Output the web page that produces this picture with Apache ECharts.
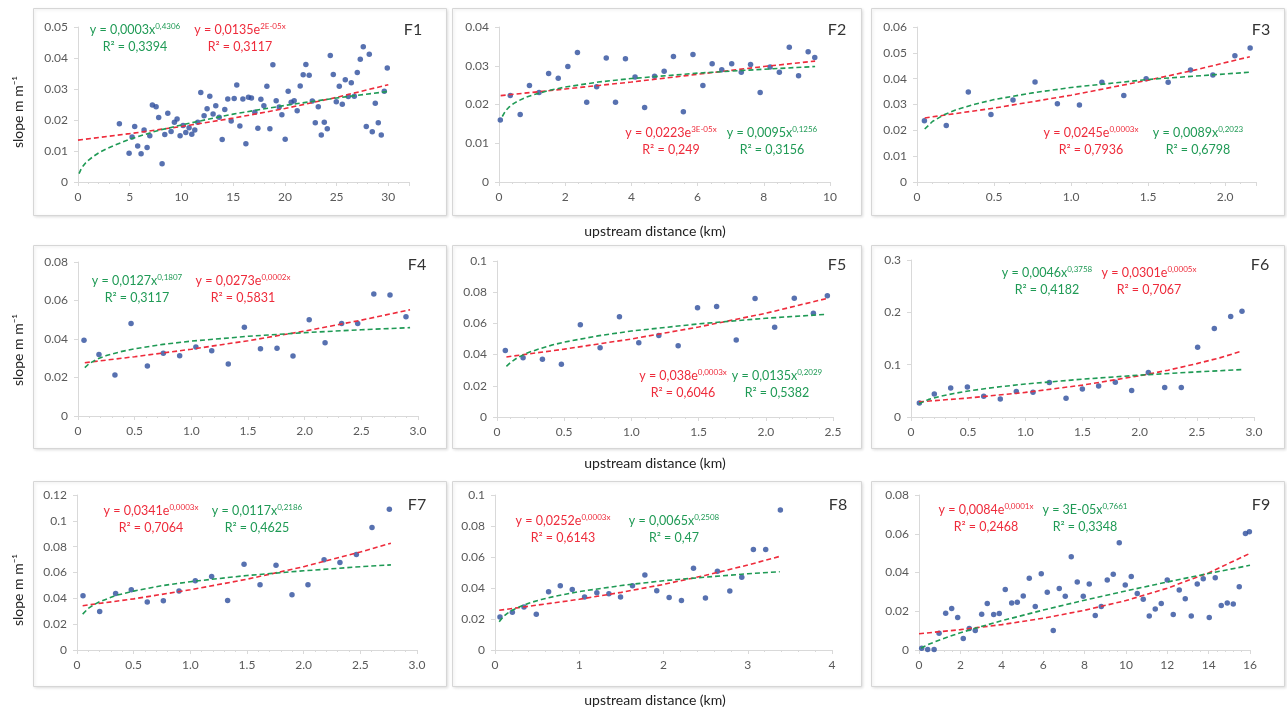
<!DOCTYPE html>
<html>
<head>
<meta charset="utf-8">
<script src="https://cdn.jsdelivr.net/npm/echarts@6/dist/echarts.min.js"></script>
<style>
html,body{margin:0;background:#fff}
#chart{width:1287px;height:711px}
</style>
</head>
<body>
<div id="chart"></div>
<script>
/* ===== 9 panels F1..F9: slope vs upstream distance, with exp (red) + power (green) trendlines ===== */

// ---- data: measured points [km, m/m] ----
const F1_PTS=[[4.0,0.0188],[4.94,0.0093],[5.23,0.0145],[5.48,0.0179],[5.77,0.0116],[6.1,0.0091],[6.39,0.0168],[6.68,0.0111],[6.94,0.0149],[7.19,0.0248],[7.55,0.0243],[7.8,0.0208],[8.13,0.0059],[8.39,0.0153],[8.68,0.0222],[9.0,0.0163],[9.32,0.0193],[9.58,0.0203],[9.87,0.0149],[10.16,0.0182],[10.42,0.016],[10.74,0.0175],[11.0,0.0154],[11.29,0.0168],[11.58,0.0193],[11.87,0.0289],[12.19,0.0214],[12.48,0.0236],[12.74,0.0277],[13.06,0.0219],[13.32,0.0246],[13.65,0.0209],[13.94,0.0137],[14.19,0.0234],[14.48,0.0268],[14.81,0.0197],[15.1,0.0269],[15.35,0.0313],[15.65,0.0181],[15.94,0.0268],[16.23,0.0123],[16.48,0.0273],[16.77,0.0271],[17.1,0.0225],[17.39,0.0173],[17.68,0.0267],[17.97,0.0246],[18.26,0.0309],[18.55,0.0172],[18.84,0.0378],[19.16,0.0262],[19.45,0.0242],[19.71,0.0217],[20.03,0.0138],[20.32,0.0293],[20.61,0.0257],[20.9,0.0262],[21.19,0.023],[21.48,0.031],[21.77,0.0346],[22.03,0.0379],[22.35,0.0344],[22.65,0.0261],[22.94,0.0191],[23.23,0.0243],[23.52,0.0152],[23.81,0.0193],[24.1,0.0172],[24.39,0.0408],[24.68,0.0347],[24.97,0.0259],[25.26,0.0309],[25.55,0.0251],[25.84,0.033],[26.13,0.0276],[26.42,0.032],[26.71,0.0277],[27.0,0.0353],[27.29,0.0396],[27.58,0.0436],[27.87,0.0179],[28.16,0.0412],[28.45,0.0162],[28.74,0.0254],[29.03,0.0191],[29.32,0.0152],[29.61,0.0293],[29.9,0.0368]];
const F2_PTS=[[0.04,0.016],[0.34,0.0223],[0.64,0.0174],[0.92,0.0249],[1.21,0.0231],[1.5,0.028],[1.79,0.0268],[2.08,0.0298],[2.37,0.0334],[2.65,0.0206],[2.95,0.0246],[3.24,0.032],[3.52,0.0206],[3.82,0.0318],[4.11,0.0271],[4.4,0.0192],[4.7,0.0273],[4.99,0.0286],[5.27,0.0324],[5.57,0.0181],[5.86,0.0329],[6.16,0.0249],[6.44,0.0305],[6.73,0.029],[7.03,0.0305],[7.32,0.0283],[7.6,0.0303],[7.89,0.0231],[8.19,0.0297],[8.47,0.0283],[8.77,0.0348],[9.05,0.0274],[9.34,0.0336],[9.54,0.0321]];
const F3_PTS=[[0.048,0.0237],[0.19,0.0219],[0.333,0.0348],[0.48,0.0261],[0.623,0.0317],[0.766,0.0387],[0.911,0.0303],[1.054,0.0298],[1.2,0.0386],[1.342,0.0335],[1.487,0.04],[1.63,0.0386],[1.775,0.0434],[1.92,0.0414],[2.063,0.0489],[2.162,0.0519]];
const F4_PTS=[[0.053,0.0393],[0.185,0.032],[0.326,0.0213],[0.468,0.0481],[0.612,0.026],[0.753,0.0326],[0.897,0.0313],[1.04,0.0358],[1.18,0.0339],[1.326,0.027],[1.468,0.0461],[1.61,0.035],[1.756,0.0352],[1.897,0.0312],[2.04,0.05],[2.18,0.0381],[2.326,0.048],[2.468,0.048],[2.61,0.0634],[2.753,0.0629],[2.894,0.0516]];
const F5_PTS=[[0.062,0.0427],[0.194,0.038],[0.338,0.037],[0.479,0.0338],[0.62,0.0592],[0.767,0.0444],[0.911,0.0643],[1.055,0.0476],[1.204,0.0523],[1.348,0.0457],[1.492,0.0701],[1.634,0.0709],[1.78,0.0494],[1.92,0.0759],[2.066,0.0575],[2.212,0.0761],[2.354,0.0665],[2.458,0.0778]];
const F6_PTS=[[0.073,0.0268],[0.204,0.044],[0.347,0.0555],[0.493,0.0574],[0.636,0.0396],[0.781,0.0345],[0.921,0.0485],[1.067,0.0472],[1.21,0.0657],[1.356,0.0357],[1.499,0.0536],[1.641,0.0593],[1.787,0.0664],[1.93,0.0504],[2.076,0.0849],[2.219,0.0562],[2.364,0.0562],[2.507,0.1334],[2.653,0.1691],[2.796,0.1921],[2.895,0.2023]];
const F7_PTS=[[0.053,0.042],[0.2,0.0299],[0.341,0.0438],[0.479,0.0466],[0.62,0.0371],[0.762,0.0381],[0.9,0.0456],[1.044,0.0536],[1.188,0.0569],[1.329,0.0384],[1.474,0.0664],[1.615,0.0505],[1.756,0.0657],[1.897,0.0427],[2.038,0.0505],[2.18,0.0698],[2.32,0.0677],[2.465,0.0739],[2.603,0.0948],[2.756,0.1089]];
const F8_PTS=[[0.059,0.0213],[0.206,0.0243],[0.344,0.0277],[0.49,0.023],[0.636,0.0376],[0.775,0.0415],[0.917,0.0391],[1.063,0.0342],[1.209,0.037],[1.352,0.0363],[1.49,0.0342],[1.632,0.0415],[1.779,0.0484],[1.92,0.0383],[2.067,0.0338],[2.213,0.032],[2.356,0.0527],[2.498,0.0335],[2.64,0.0508],[2.787,0.0381],[2.929,0.0469],[3.067,0.0649],[3.213,0.0649],[3.387,0.0903]];
const F9_PTS=[[0.13,0.0009],[0.42,0.0002],[0.73,0.0003],[0.97,0.0087],[1.29,0.019],[1.58,0.0214],[1.87,0.0168],[2.14,0.006],[2.43,0.0111],[2.72,0.0101],[3.03,0.0185],[3.3,0.024],[3.61,0.0183],[3.88,0.0188],[4.17,0.0312],[4.48,0.0243],[4.75,0.0247],[5.04,0.0279],[5.33,0.037],[5.62,0.0224],[5.91,0.0394],[6.2,0.0298],[6.49,0.0101],[6.78,0.0317],[7.07,0.0278],[7.36,0.0481],[7.65,0.0351],[7.94,0.0278],[8.23,0.0341],[8.52,0.0178],[8.81,0.0224],[9.1,0.0361],[9.39,0.0391],[9.68,0.0553],[9.97,0.0336],[10.26,0.0379],[10.55,0.0291],[10.84,0.0262],[11.13,0.0176],[11.42,0.0212],[11.71,0.024],[12.0,0.0361],[12.29,0.0183],[12.58,0.031],[12.87,0.0264],[13.16,0.0175],[13.45,0.0341],[13.74,0.0368],[14.03,0.0168],[14.32,0.0373],[14.61,0.023],[14.9,0.0242],[15.19,0.0238],[15.48,0.0326],[15.78,0.0601],[15.97,0.061]];

// ---- trendlines (exp = red, pow = green) ----
const F1_EXP=[[0,0.0135],[5,0.0156],[10,0.0179],[15,0.0206],[20,0.0237],[25,0.0273],[30,0.0314]];
const F1_POW=[[0.1,0.0027],[0.3,0.0042],[0.5,0.0052],[0.75,0.0062],[1,0.007],[1.5,0.0083],[2,0.0094],[2.75,0.0107],[3.5,0.0118],[5,0.0138],[7.5,0.0164],[10,0.0184],[12.5,0.0202],[15,0.0219],[20,0.0247],[25,0.0271],[30,0.0292]];
const F2_EXP=[[0.05,0.0223],[2,0.024],[4,0.0258],[6,0.0278],[8,0.0298],[9.55,0.0312]];
const F2_POW=[[0.1,0.0169],[0.2,0.0184],[0.3,0.0193],[0.45,0.0203],[0.6,0.021],[0.8,0.0218],[1,0.0224],[1.5,0.0236],[2,0.0245],[3,0.0258],[4,0.0267],[6,0.0281],[8,0.0291],[9.55,0.0298]];
const F3_EXP=[[0.05,0.0248],[0.5,0.0286],[1.0,0.0336],[1.5,0.0394],[1.8,0.0433],[2.16,0.0485]];
const F3_POW=[[0.05,0.0205],[0.1,0.0234],[0.175,0.026],[0.25,0.0279],[0.375,0.0301],[0.5,0.0319],[0.75,0.0345],[1,0.0366],[1.5,0.0397],[2.16,0.0425]];
const F4_EXP=[[0.06,0.0277],[0.5,0.0308],[1,0.0347],[1.5,0.0391],[2,0.0441],[2.5,0.0498],[2.93,0.0552]];
const F4_POW=[[0.06,0.0251],[0.1,0.0273],[0.175,0.0297],[0.25,0.0314],[0.375,0.0334],[0.5,0.0349],[0.75,0.0372],[1,0.0389],[1.5,0.0414],[2,0.0433],[2.5,0.0448],[2.93,0.0459]];
const F5_EXP=[[0.07,0.0385],[0.5,0.0435],[1,0.05],[1.5,0.0577],[2,0.0665],[2.45,0.0759]];
const F5_POW=[[0.07,0.0325],[0.1,0.0349],[0.15,0.0379],[0.22,0.0409],[0.3,0.0433],[0.4,0.0459],[0.5,0.048],[0.75,0.052],[1,0.0551],[1.5,0.0597],[2,0.0633],[2.45,0.0658]];
const F6_EXP=[[0.07,0.029],[0.5,0.0363],[1,0.047],[1.5,0.0609],[2,0.0788],[2.25,0.0895],[2.5,0.102],[2.7,0.113],[2.89,0.1257]];
const F6_POW=[[0.07,0.0255],[0.15,0.0332],[0.25,0.0393],[0.375,0.0449],[0.5,0.0497],[0.75,0.0571],[1,0.0631],[1.5,0.0723],[2,0.08],[2.5,0.0862],[2.89,0.0906]];
const F7_EXP=[[0.05,0.0343],[0.5,0.0396],[1,0.0466],[1.5,0.0548],[2,0.0645],[2.5,0.0758],[2.77,0.0827]];
const F7_POW=[[0.05,0.0278],[0.1,0.0322],[0.15,0.0351],[0.2,0.0374],[0.35,0.0424],[0.5,0.0456],[0.75,0.0498],[1,0.0529],[1.5,0.0577],[2,0.0613],[2.5,0.0645],[2.77,0.0659]];
const F8_EXP=[[0.05,0.0256],[1,0.0327],[1.5,0.0372],[2,0.0423],[2.5,0.0482],[3,0.0548],[3.38,0.0604]];
const F8_POW=[[0.05,0.0183],[0.1,0.0216],[0.15,0.0238],[0.2,0.0255],[0.3,0.0281],[0.4,0.0302],[0.55,0.0326],[0.7,0.0345],[1,0.0377],[1.5,0.0416],[2,0.0447],[2.5,0.047],[3,0.0492],[3.38,0.0505]];
const F9_EXP=[[0,0.0084],[2,0.0105],[4,0.0131],[6,0.0164],[8,0.0205],[10,0.0255],[12,0.0319],[14,0.0398],[16,0.0499]];
const F9_POW=[[0.1,0.0009],[0.25,0.0018],[0.5,0.0031],[1,0.0052],[1.5,0.0071],[2,0.0089],[3,0.0121],[4,0.0151],[6,0.0206],[8,0.0257],[10,0.0305],[12,0.0351],[14,0.0395],[16,0.0437]];

// ---- equation texts: [base, superscript, R²] ----
const EQ_RED=[
  ['y = 0,0135e','2E-05x','R² = 0,3117'],
  ['y = 0,0223e','3E-05x','R² = 0,249'],
  ['y = 0,0245e','0,0003x','R² = 0,7936'],
  ['y = 0,0273e','0,0002x','R² = 0,5831'],
  ['y = 0,038e','0,0003x','R² = 0,6046'],
  ['y = 0,0301e','0,0005x','R² = 0,7067'],
  ['y = 0,0341e','0,0003x','R² = 0,7064'],
  ['y = 0,0252e','0,0003x','R² = 0,6143'],
  ['y = 0,0084e','0,0001x','R² = 0,2468'],
];
const EQ_GREEN=[
  ['y = 0,0003x','0,4306','R² = 0,3394'],
  ['y = 0,0095x','0,1256','R² = 0,3156'],
  ['y = 0,0089x','0,2023','R² = 0,6798'],
  ['y = 0,0127x','0,1807','R² = 0,3117'],
  ['y = 0,0135x','0,2029','R² = 0,5382'],
  ['y = 0,0046x','0,3758','R² = 0,4182'],
  ['y = 0,0117x','0,2186','R² = 0,4625'],
  ['y = 0,0065x','0,2508','R² = 0,47'],
  ['y = 3E-05x','0,7661','R² = 0,3348'],
];
const PANEL_NAMES=['F1','F2','F3','F4','F5','F6','F7','F8','F9'];
const X_TITLE='upstream distance (km)';
const Y_TITLE='slope m m⁻¹';

// ---- layout (px) : plot area, axis range, label spots ----
const LAYOUT=[
  {pts:F1_PTS,exp:F1_EXP,pow:F1_POW,left:78, top:27, w:331,h:155,xMax:32, xInt:5,  xDec:0,yMax:0.05,yInt:0.01, red:[240,30], green:[135,30], tag:[413,30]},
  {pts:F2_PTS,exp:F2_EXP,pow:F2_POW,left:499,top:27, w:331,h:155,xMax:10, xInt:2,  xDec:0,yMax:0.04,yInt:0.01, red:[671,133],green:[772,133],tag:[837,30]},
  {pts:F3_PTS,exp:F3_EXP,pow:F3_POW,left:917,top:27, w:339,h:155,xMax:2.2,xInt:0.5,xDec:1,yMax:0.06,yInt:0.01, red:[1091,133],green:[1198,133],tag:[1261,30]},
  {pts:F4_PTS,exp:F4_EXP,pow:F4_POW,left:78, top:262,w:340,h:154,xMax:3,  xInt:0.5,xDec:1,yMax:0.08,yInt:0.02, red:[243,281],green:[137,281],tag:[417,265]},
  {pts:F5_PTS,exp:F5_EXP,pow:F5_POW,left:497,top:261,w:336,h:156,xMax:2.5,xInt:0.5,xDec:1,yMax:0.1, yInt:0.02, red:[683,376],green:[777,376],tag:[837,265]},
  {pts:F6_PTS,exp:F6_EXP,pow:F6_POW,left:911,top:260,w:343,h:157,xMax:3,  xInt:0.5,xDec:1,yMax:0.3, yInt:0.1,  red:[1149,273],green:[1047,273],tag:[1260,265]},
  {pts:F7_PTS,exp:F7_EXP,pow:F7_POW,left:77, top:495,w:340,h:155,xMax:3,  xInt:0.5,xDec:1,yMax:0.12,yInt:0.02, red:[151,511],green:[257,511],tag:[417,505]},
  {pts:F8_PTS,exp:F8_EXP,pow:F8_POW,left:495,top:495,w:337,h:155,xMax:4,  xInt:1,  xDec:0,yMax:0.1, yInt:0.02, red:[563,521],green:[674,521],tag:[838,505]},
  {pts:F9_PTS,exp:F9_EXP,pow:F9_POW,left:919,top:495,w:331,h:155,xMax:16, xInt:2,  xDec:0,yMax:0.08,yInt:0.02, red:[986,510],green:[1085,510],tag:[1261,505]},
];
const BOX_X=[[33,446],[452,861],[871,1284]];
const BOX_Y=[[8,215],[245,448],[481,686]];

const FONT='Lato, "Open Sans", sans-serif';
const RED='#ee2b3b', GREEN='#1f9a55', DOT='#2d4d9c', AXIS='#d9d9d9', LBL='#595959';

const chart=echarts.init(document.getElementById('chart'),null,{renderer:'canvas'});
const grid=[],xAxis=[],yAxis=[],series=[],graphic=[];

// panel frames
BOX_Y.forEach(([y0,y1])=>BOX_X.forEach(([x0,x1])=>graphic.push({type:'rect',z:-10,silent:true,
  shape:{x:x0+0.5,y:y0+0.5,width:x1-x0,height:y1-y0},
  style:{fill:'#fff',stroke:'#d6d6d6',lineWidth:1,shadowBlur:3,shadowColor:'rgba(0,0,0,0.12)',shadowOffsetX:1,shadowOffsetY:1}})));

LAYOUT.forEach((p,i)=>{
  const onTick=(v,int)=>Math.abs(v/int-Math.round(v/int))<1e-6;
  grid.push({left:p.left,top:p.top,width:p.w,height:p.h,containLabel:false});
  xAxis.push({type:'value',gridIndex:i,min:0,max:p.xMax,interval:p.xInt,
    axisLine:{show:true,onZero:false,lineStyle:{color:AXIS,width:1}},
    axisTick:{show:true,length:4,lineStyle:{color:AXIS}},
    minorTick:{show:true,splitNumber:5,length:2,lineStyle:{color:AXIS}},
    splitLine:{show:false},
    axisLabel:{color:LBL,fontSize:12,fontFamily:FONT,margin:9,
      formatter:v=>!onTick(v,p.xInt)?'':(v===0?'0':v.toFixed(p.xDec))}});
  yAxis.push({type:'value',gridIndex:i,min:0,max:p.yMax,interval:p.yInt,
    axisLine:{show:true,lineStyle:{color:AXIS,width:1}},
    axisTick:{show:true,length:4,lineStyle:{color:AXIS}},
    splitLine:{show:false},
    axisLabel:{color:LBL,fontSize:12,fontFamily:FONT,margin:10,
      formatter:v=>v===0?'0':String(+v.toFixed(3))}});
  const dash={type:[5,3],width:1.6};
  series.push(
    {type:'scatter',xAxisIndex:i,yAxisIndex:i,data:p.pts,symbolSize:5.5,z:3,
     itemStyle:{color:DOT},silent:true},
    {type:'line',xAxisIndex:i,yAxisIndex:i,data:p.exp,smooth:false,
     symbol:'none',z:4,lineStyle:{...dash,color:RED},silent:true},
    {type:'line',xAxisIndex:i,yAxisIndex:i,data:p.pow,smooth:false,
     symbol:'none',z:4,lineStyle:{...dash,color:GREEN},silent:true});

  // equation labels
  [[EQ_RED[i],p.red,RED],[EQ_GREEN[i],p.green,GREEN]].forEach(([eq,pos,c])=>{
    graphic.push({type:'text',x:pos[0],y:pos[1],z:20,silent:true,style:{
      text:`{b|${eq[0]}}{s|${eq[1]}}`,align:'center',verticalAlign:'middle',
      rich:{b:{fontSize:12.5,fontFamily:FONT,fill:c,lineHeight:15},
            s:{fontSize:8,fontFamily:FONT,fill:c,lineHeight:8,verticalAlign:'top'}}}});
    graphic.push({type:'text',x:pos[0],y:pos[1]+17,z:20,silent:true,style:{
      text:eq[2],align:'center',verticalAlign:'middle',fontSize:12.5,fontFamily:FONT,fill:c}});
  });
  graphic.push({type:'text',x:p.tag[0],y:p.tag[1],z:20,silent:true,style:{
    text:PANEL_NAMES[i],align:'center',verticalAlign:'middle',fontSize:16,fontFamily:FONT,fill:'#333'}});
});

// axis titles
[112,350,590].forEach(y=>graphic.push({type:'text',x:18,y,rotation:Math.PI/2,silent:true,style:{
  text:Y_TITLE,align:'center',verticalAlign:'middle',fontSize:14,fontFamily:FONT,fill:'#222'}}));
[231,463,700].forEach(y=>graphic.push({type:'text',x:655,y,silent:true,style:{
  text:X_TITLE,align:'center',verticalAlign:'middle',fontSize:14,fontFamily:FONT,fill:'#222'}}));

chart.setOption({animation:false,backgroundColor:'#fff',grid,xAxis,yAxis,series,graphic});
</script>
</body>
</html>
